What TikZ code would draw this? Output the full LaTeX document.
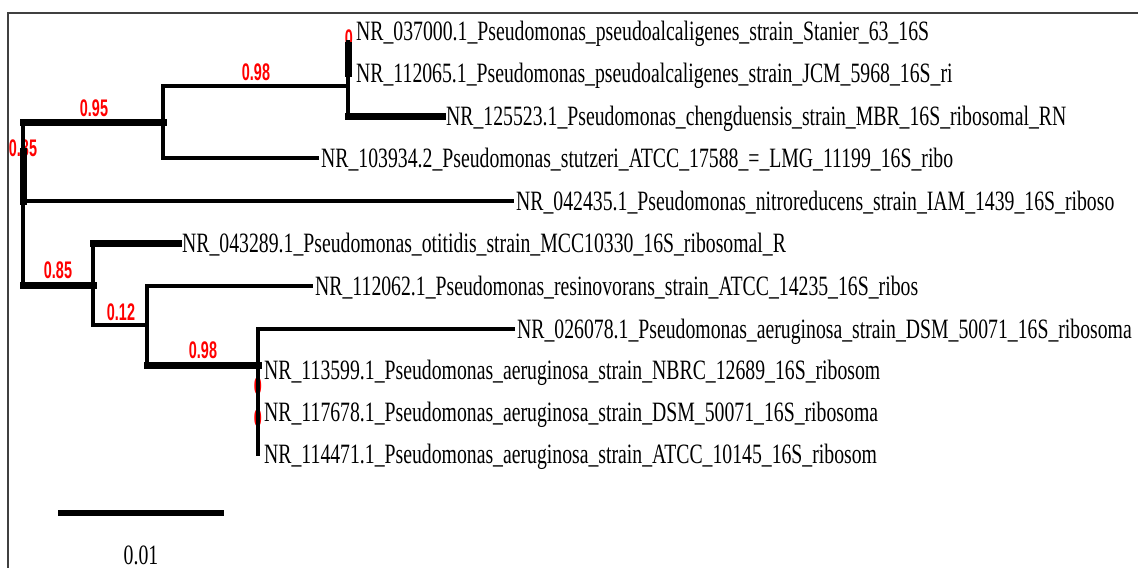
\documentclass[tikz,border=0pt]{standalone}
\usepackage{fontspec}
\setmainfont{Liberation Serif}
\newfontfamily\leaffont[FakeStretch=0.705]{Liberation Serif}
\newfontfamily\bootfont[FakeStretch=0.60]{Liberation Sans Bold}

\begin{document}
\begin{tikzpicture}[x=1pt,y=-1pt,
	branch/.style={line width=4pt,line cap=rect},
	heavy/.style={line width=7pt,line cap=rect},
	frame/.style={draw=black!75,line width=1.5pt},
	leaf/.style={anchor=west,inner xsep=4pt,inner ysep=0pt,text height=18.5pt,text depth=0pt,font=\leaffont\fontsize{28}{30}\selectfont},
	boot/.style={text=red,inner sep=0pt,font=\bootfont\fontsize{24}{26}\selectfont}]
	\useasboundingbox (0,0) rectangle (1138,568);
	\draw[frame] (1138,13) -- (8,13) -- (8,568);
	\node[leaf] (stanier) at (352,31) {NR\_037000.1\_Pseudomonas\_pseudoalcaligenes\_strain\_Stanier\_63\_16S};
	\node[leaf] (jcm) at (352,73) {NR\_112065.1\_Pseudomonas\_pseudoalcaligenes\_strain\_JCM\_5968\_16S\_ri};
	\node[leaf] (cheng) at (442,116) {NR\_125523.1\_Pseudomonas\_chengduensis\_strain\_MBR\_16S\_ribosomal\_RN};
	\node[leaf] (stutz) at (317,158) {NR\_103934.2\_Pseudomonas\_stutzeri\_ATCC\_17588\_=\_LMG\_11199\_16S\_ribo};
	\node[leaf] (nitro) at (512,201) {NR\_042435.1\_Pseudomonas\_nitroreducens\_strain\_IAM\_1439\_16S\_riboso};
	\node[leaf] (otit) at (178,243) {NR\_043289.1\_Pseudomonas\_otitidis\_strain\_MCC10330\_16S\_ribosomal\_R};
	\node[leaf] (resino) at (311,286) {NR\_112062.1\_Pseudomonas\_resinovorans\_strain\_ATCC\_14235\_16S\_ribos};
	\node[leaf] (aerA) at (513,329) {NR\_026078.1\_Pseudomonas\_aeruginosa\_strain\_DSM\_50071\_16S\_ribosoma};
	\node[leaf] (aerB) at (260,370) {NR\_113599.1\_Pseudomonas\_aeruginosa\_strain\_NBRC\_12689\_16S\_ribosom};
	\node[leaf] (aerC) at (260,412) {NR\_117678.1\_Pseudomonas\_aeruginosa\_strain\_DSM\_50071\_16S\_ribosoma};
	\node[leaf] (aerD) at (260,454) {NR\_114471.1\_Pseudomonas\_aeruginosa\_strain\_ATCC\_10145\_16S\_ribosom};

	\coordinate (root) at (23,201);
	\coordinate (nA) at (163,122);
	\coordinate (nB) at (348,86);
	\coordinate (nC) at (93,285);
	\coordinate (nD) at (147,325);
	\coordinate (nE) at (258,365);

	\node[boot] (bRoot) at (23,148) {0.85};
	\node[boot] (bA) at (94,108) {0.95};
	\node[boot] (bB) at (256,72) {0.98};
	\node[boot] (bPseudo) at (349,38) {0};
	\node[boot] (bC) at (58,270) {0.85};
	\node[boot] (bD) at (121,312) {0.12};
	\node[boot] (bE) at (203,350) {0.98};
	\node[boot] (bAerB) at (258,386) {0};
	\node[boot] (bAerC) at (258,418) {0};

	\draw[branch] (root |- nA) -- (root |- nC);
	\draw[heavy] (root |- nitro.west) -- ++(0,-50);
	\draw[heavy] (root |- nA) -- (nA);
	\draw[branch] (root |- nitro.west) -- (nitro.west);
	\draw[heavy] (root |- nC) -- (nC);

	\draw[branch] (nA |- nB) -- (nA |- stutz.west);
	\draw[branch] (nA |- nB) -- (nB);
	\draw[branch] (nA |- stutz.west) -- (stutz.west);

	\draw[branch] (nB |- stanier.west) ++(0,11) -- (nB |- cheng.west);
	\draw[heavy] (nB |- stanier.west) ++(0,14) -- (nB |- jcm.west);
	\draw[heavy] (nB |- cheng.west) -- (cheng.west);

	\draw[branch] (nC |- otit.west) -- (nC |- nD);
	\draw[heavy] (nC |- otit.west) -- (otit.west);
	\draw[branch] (nC |- nD) -- (nD);

	\draw[branch] (nD |- resino.west) -- (nD |- nE);
	\draw[branch] (nD |- resino.west) -- (resino.west);
	\draw[heavy] (nD |- nE) -- (nE);

	\draw[branch] (nE |- aerA.west) -- (nE |- aerD.west);
	\draw[branch] (nE |- aerA.west) -- (aerA.west);

	\coordinate (barL) at (58,513);
	\coordinate (barR) at (224,513);
	\draw[line width=6pt] (barL) -- (barR);
	\node[inner sep=0pt,font=\leaffont\fontsize{28}{30}\selectfont] (barText) at (141,555) {0.01};
\end{tikzpicture}
\end{document}
